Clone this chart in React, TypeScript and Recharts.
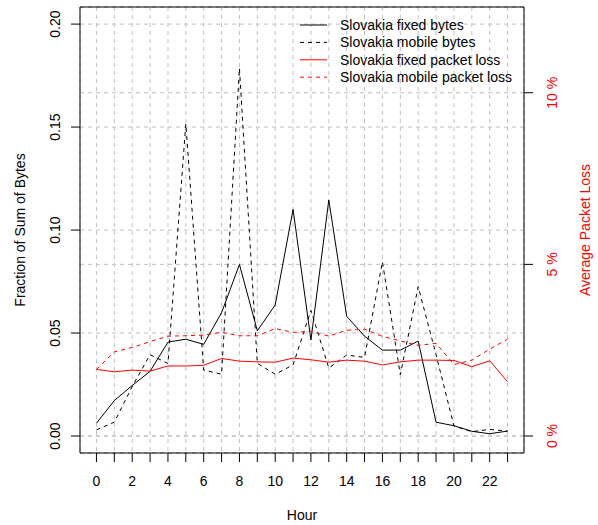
import React from 'react';
import {
  LineChart, Line, XAxis, YAxis, CartesianGrid, ReferenceArea, Legend
} from 'recharts';

// hour of day
const hours = [0, 1, 2, 3, 4, 5, 6, 7, 8, 9, 10, 11, 12, 13, 14, 15, 16, 17, 18, 19, 20, 21, 22, 23];

// fraction of sum of bytes (left axis)
const fixedBytes = [
  0.0062, 0.0172, 0.0245, 0.0314, 0.0456, 0.0470, 0.0445, 0.0599, 0.0833, 0.0511, 0.0636, 0.1100,
  0.0466, 0.1146, 0.0581, 0.0485, 0.0417, 0.0417, 0.0461, 0.0067, 0.0050, 0.0023, 0.0011, 0.0024,
];
const mobileBytes = [
  0.0030, 0.0067, 0.0240, 0.0395, 0.0352, 0.1515, 0.0320, 0.0300, 0.1785, 0.0353, 0.0300, 0.0345,
  0.0610, 0.0330, 0.0393, 0.0382, 0.0846, 0.0298, 0.0725, 0.0395, 0.0049, 0.0021, 0.0032, 0.0024,
];

// average packet loss in % (right axis)
const fixedLoss = [
  1.94, 1.87, 1.92, 1.89, 2.04, 2.04, 2.06, 2.26, 2.18, 2.16, 2.15, 2.27,
  2.22, 2.15, 2.21, 2.18, 2.07, 2.16, 2.21, 2.21, 2.20, 2.02, 2.19, 1.58,
];
const mobileLoss = [
  1.94, 2.45, 2.58, 2.75, 2.91, 2.92, 2.94, 3.02, 2.92, 2.92, 3.13, 3.02,
  3.04, 2.91, 3.08, 3.11, 2.90, 2.77, 2.64, 2.70, 2.08, 2.21, 2.53, 2.82,
];

const seriesNames = [
  'Slovakia fixed bytes',
  'Slovakia mobile bytes',
  'Slovakia fixed packet loss',
  'Slovakia mobile packet loss',
];

const byteTicks = [0, 0.05, 0.1, 0.15, 0.2];
const lossTicks = [0, 5, 10];
const lossLabels = ['0 %', '5 %', '10 %'];

const data = hours.map((h, i) => ({
  hour: h,
  fixedBytes: fixedBytes[i],
  mobileBytes: mobileBytes[i],
  fixedLoss: fixedLoss[i],
  mobileLoss: mobileLoss[i],
}));

const FONT = '"Liberation Sans", Arial, Helvetica, sans-serif';
const GRID = '#c0c0c0';
const RED = '#ff0000';
const X_DOMAIN: [number, number] = [-0.92, 23.92];
const LEFT_DOMAIN: [number, number] = [-0.00825, 0.2083];
const RIGHT_DOMAIN: [number, number] = [-0.495, 12.497];

const XTick = ({ x, y, payload }: any) => (
  <g>
    <line x1={x} x2={x} y1={y} y2={y + 9} stroke="#000" />
    <text x={x} y={y + 33} textAnchor="middle" fontSize={14} fontFamily={FONT} fill="#000">
      {payload.value % 2 === 0 ? String(payload.value) : ''}
    </text>
  </g>
);

const LeftTick = ({ x, y, payload }: any) => (
  <g>
    <line x1={x - 9} x2={x} y1={y} y2={y} stroke="#000" />
    <text transform={`translate(${x - 20},${y}) rotate(-90)`} textAnchor="middle"
      fontSize={14} fontFamily={FONT} fill="#000">
      {Number(payload.value).toFixed(2)}
    </text>
  </g>
);

const RightTick = ({ x, y, payload }: any) => (
  <g>
    <line x1={x} x2={x + 9} y1={y} y2={y} stroke="#000" />
    <text transform={`translate(${x + 33},${y}) rotate(-90)`} textAnchor="middle"
      fontSize={14} fontFamily={FONT} fill={RED}>
      {lossLabels[lossTicks.indexOf(payload.value)]}
    </text>
  </g>
);

const legendStyles = [
  { color: '#000', dash: undefined },
  { color: '#000', dash: '4 4' },
  { color: RED, dash: undefined },
  { color: RED, dash: '4 4' },
];

const renderLegend = () => (
  <svg width={230} height={76} style={{ display: 'block' }}>
    {seriesNames.map((name, i) => {
      const cy = 15 + i * 17.4;
      return (
        <g key={name}>
          <line x1={5} x2={32} y1={cy} y2={cy} stroke={legendStyles[i].color}
            strokeDasharray={legendStyles[i].dash} />
          <text x={45} y={cy + 5} fontSize={14} fontFamily={FONT} fill="#000">{name}</text>
        </g>
      );
    })}
  </svg>
);

export default function App() {
  return (
    <div style={{ position: 'absolute', left: 0, top: 0, width: 598, height: 525, background: '#fff' }}>
      <LineChart width={598} height={525} data={data} margin={{ top: 7, right: 0, bottom: 0, left: 0 }}>
        <CartesianGrid yAxisId="left" stroke={GRID} strokeDasharray="4 4" />
        <CartesianGrid yAxisId="right" vertical={false} stroke={GRID} strokeDasharray="4 4" />
        <XAxis
          dataKey="hour" type="number" domain={X_DOMAIN} ticks={hours} allowDataOverflow
          height={72} axisLine={false} tickLine={false} tickSize={0} tickMargin={0}
          tick={<XTick />} interval={0}
          label={({ viewBox }: any) => (
            <text x={viewBox.x + viewBox.width / 2} y={viewBox.y + 67} textAnchor="middle"
              fontSize={14} fontFamily={FONT} fill="#000">Hour</text>
          )}
        />
        <YAxis
          yAxisId="left" orientation="left" type="number" domain={LEFT_DOMAIN} ticks={byteTicks}
          allowDataOverflow width={80} axisLine={false} tickLine={false} tickSize={0} tickMargin={0}
          tick={<LeftTick />} interval={0}
          label={({ viewBox }: any) => (
            <text transform={`translate(${viewBox.x + 25},${viewBox.y + viewBox.height / 2}) rotate(-90)`}
              textAnchor="middle" fontSize={14} fontFamily={FONT} fill="#000">Fraction of Sum of Bytes</text>
          )}
        />
        <YAxis
          yAxisId="right" orientation="right" type="number" domain={RIGHT_DOMAIN} ticks={lossTicks}
          allowDataOverflow width={74} axisLine={false} tickLine={false} tickSize={0} tickMargin={0}
          tick={<RightTick />} interval={0}
          label={({ viewBox }: any) => (
            <text transform={`translate(${viewBox.x + 66},${viewBox.y + viewBox.height / 2}) rotate(-90)`}
              textAnchor="middle" fontSize={14} fontFamily={FONT} fill={RED}>Average Packet Loss</text>
          )}
        />
        <Line yAxisId="left" dataKey="fixedBytes" name={seriesNames[0]} type="linear" stroke="#000"
          strokeWidth={1} dot={false} activeDot={false} isAnimationActive={false} />
        <Line yAxisId="left" dataKey="mobileBytes" name={seriesNames[1]} type="linear" stroke="#000"
          strokeWidth={1} strokeDasharray="4 4" dot={false} activeDot={false} isAnimationActive={false} />
        <Line yAxisId="right" dataKey="fixedLoss" name={seriesNames[2]} type="linear" stroke={RED}
          strokeWidth={1} dot={false} activeDot={false} isAnimationActive={false} />
        <Line yAxisId="right" dataKey="mobileLoss" name={seriesNames[3]} type="linear" stroke={RED}
          strokeWidth={1} strokeDasharray="4 4" dot={false} activeDot={false} isAnimationActive={false} />
        <ReferenceArea yAxisId="left" x1={X_DOMAIN[0]} x2={X_DOMAIN[1]} y1={LEFT_DOMAIN[0]} y2={LEFT_DOMAIN[1]}
          fill="none" fillOpacity={0} stroke="#000" strokeWidth={1} ifOverflow="visible" />
        <Legend
          layout="vertical" align="center" verticalAlign="middle"
          wrapperStyle={{ left: 295, top: 10, width: 230, height: 76 }}
          content={renderLegend}
        />
      </LineChart>
    </div>
  );
}
